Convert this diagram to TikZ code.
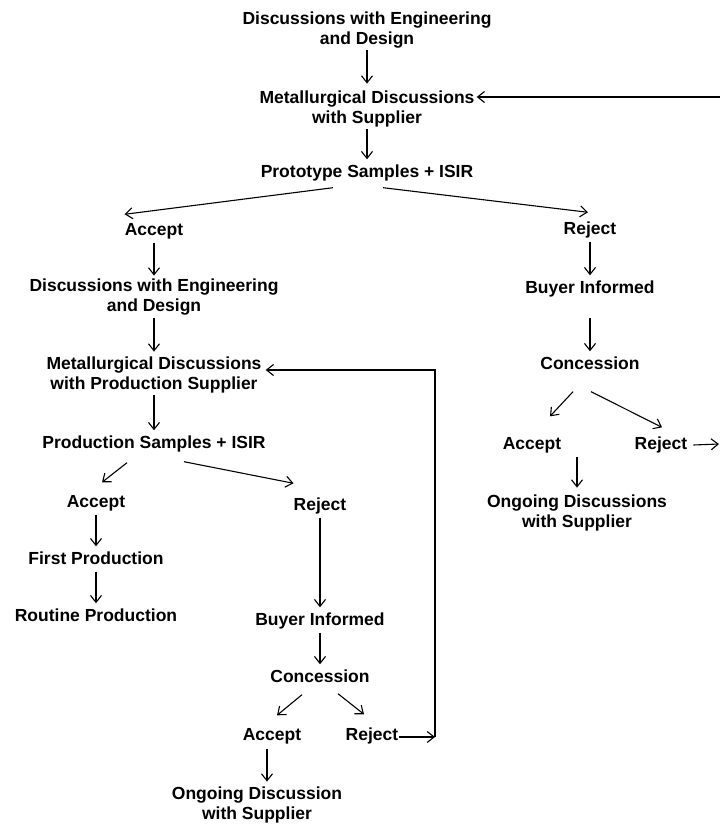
\documentclass[tikz,border=0pt]{standalone}
\usepackage{fontspec}
\setmainfont{Liberation Sans}
\usetikzlibrary{calc,arrows.meta}
\begin{document}
\begin{tikzpicture}[x=1pt,y=-1pt,
  lbl/.style={font=\bfseries\fontsize{17.5}{20}\selectfont, inner sep=0pt, text height=13pt, text depth=4pt},
  lbltwo/.style={font=\bfseries\fontsize{17.5}{20}\selectfont, inner sep=0pt, align=center},
  arr/.style={-{Straight Barb[length=7pt,width=11pt,line width=1.1pt]}, line width=1.1pt}]
\useasboundingbox (0,0) rectangle (720,825);
% main column
\node[lbltwo] (n1) at (367,30) {Discussions with Engineering\\and Design};
\node[lbltwo] (n2) at (367,109) {Metallurgical Discussions\\with Supplier};
\node[lbl] (n3) at (367,173) {Prototype Samples + ISIR};
% left branch
\node[lbl] (acc1) at (154,231) {Accept};
\node[lbltwo] (deng2) at (154,297) {Discussions with Engineering\\and Design};
\node[lbltwo] (met2) at (154,375) {Metallurgical Discussions\\with Production Supplier};
\node[lbl] (prod) at (154,444) {Production Samples + ISIR};
\node[lbl] (acc2) at (96,503) {Accept};
\node[lbl] (first) at (96,560) {First Production};
\node[lbl] (routine) at (96,617) {Routine Production};
\node[lbl] (rej2) at (320,506) {Reject};
\node[lbl] (buyer2) at (320,621) {Buyer Informed};
\node[lbl] (conc2) at (320,678) {Concession};
\node[lbl] (acc3) at (272,736) {Accept};
\node[lbl] (rej3) at (372,736) {Reject};
\node[lbltwo] (ongo2) at (257,805) {Ongoing Discussion\\with Supplier};
% right branch
\node[lbl] (rej1) at (590,230) {Reject};
\node[lbl] (buyer1) at (590,289) {Buyer Informed};
\node[lbl] (conc1) at (590,365) {Concession};
\node[lbl] (acc4) at (532,445) {Accept};
\node[lbl] (rej4) at (661,445) {Reject};
\node[lbltwo] (ongo1) at (577,513) {Ongoing Discussions\\with Supplier};
% free ends
\coordinate (edge1) at (721,97);
\coordinate (edge4) at (719,444);
\coordinate (loopc) at (435,737);
% vertical arrows
\draw[arr] ($(n1.south)+(0,2)$) -- ($(n2.north)+(0,-7)$);
\draw[arr] ($(n2.south)+(0,2)$) -- ($(n3.north)+(0,-5)$);
\draw[arr] ($(acc1.south)+(0,3)$) -- ($(deng2.north)+(0,-3)$);
\draw[arr] ($(deng2.south)+(0,3)$) -- ($(met2.north)+(0,-5)$);
\draw[arr] ($(met2.south)+(0,2)$) -- ($(prod.north)+(0,-5)$);
\draw[arr] ($(acc2.south)+(0,3)$) -- ($(first.north)+(0,-5)$);
\draw[arr] ($(first.south)+(0,3)$) -- ($(routine.north)+(0,-5)$);
\draw[arr] ($(rej2.south)+(0,3)$) -- ($(buyer2.north)+(0,-5)$);
\draw[arr] ($(buyer2.south)+(0,3)$) -- ($(conc2.north)+(0,-5)$);
\draw[arr] ($(acc3.south)+(-5,4)$) -- ($(ongo2.north)+(10,-5)$);
\draw[arr] ($(rej1.south)+(0,3)$) -- ($(buyer1.north)+(0,-5)$);
\draw[arr] ($(buyer1.south)+(0,20)$) -- ($(conc1.north)+(0,-5)$);
\draw[arr] ($(acc4.south)+(45,3)$) -- ($(ongo1.north)+(0,-7)$);
% diagonal arrows
\draw[arr] ($(n3.south)+(-34,6)$) -- ($(acc1.north west)+(0,-8)$);
\draw[arr] ($(n3.south)+(16,6)$) -- ($(rej1.north)+(-2,-9)$);
\draw[arr] ($(prod.south)+(-27,10)$) -- ($(acc2.north)+(6,-12)$);
\draw[arr] ($(prod.south)+(30,9)$) -- ($(rej2.north west)+(0,-14)$);
\draw[arr] ($(conc2.south)+(-18,8)$) -- ($(acc3.north)+(5,-12)$);
\draw[arr] ($(conc2.south)+(18,7)$) -- ($(rej3.north)+(-8,-13)$);
\draw[arr] ($(conc1.south)+(-17,18)$) -- ($(acc4.north)+(18,-20)$);
\draw[arr] ($(conc1.south)+(1,18)$) -- ($(rej4.north)+(1,-9)$);
% feedback arrows
\draw[arr] ($(rej4.east)+(6,0)$) -- (edge4);
\draw[arr] (edge1) -- ($(n2.east)+(2,-12)$);
\draw[arr] ($(rej3.east)+(1,1)$) -- (loopc);
\draw[arr] (loopc) |- ($(met2.east)+(4,-5)$);
\end{tikzpicture}
\end{document}
